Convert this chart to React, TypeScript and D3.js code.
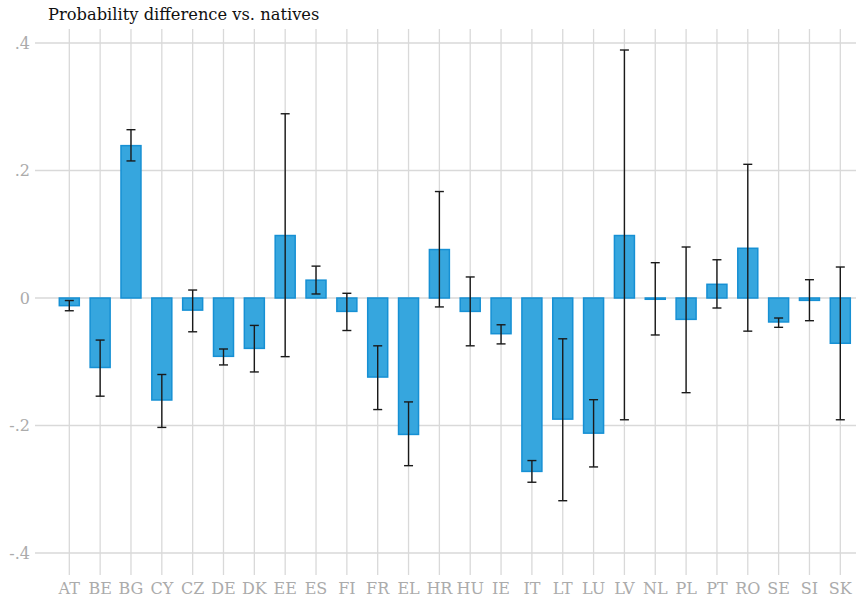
import React from "react";
import * as d3 from "d3";

const categories = ["AT","BE","BG","CY","CZ","DE","DK","EE","ES","FI","FR","EL","HR","HU","IE","IT","LT","LU","LV","NL","PL","PT","RO","SE","SI","SK"];
const values = [-0.012,-0.109,0.239,-0.160,-0.019,-0.0915,-0.079,0.098,0.028,-0.021,-0.124,-0.214,0.076,-0.021,-0.056,-0.272,-0.190,-0.212,0.098,-0.002,-0.0335,0.0215,0.078,-0.0376,-0.0037,-0.071];
const lower = [-0.020,-0.154,0.215,-0.203,-0.053,-0.105,-0.116,-0.092,0.0063,-0.051,-0.175,-0.263,-0.014,-0.075,-0.072,-0.289,-0.318,-0.265,-0.191,-0.058,-0.1485,-0.0157,-0.052,-0.046,-0.0356,-0.191];
const upper = [-0.004,-0.066,0.264,-0.120,0.0125,-0.080,-0.043,0.289,0.050,0.0074,-0.075,-0.163,0.167,0.033,-0.042,-0.255,-0.064,-0.1595,0.389,0.0554,0.080,0.060,0.2097,-0.0314,0.0287,0.0486];
const yTicks = [-0.4,-0.2,0,0.2,0.4];
const yTickLabels = ["-.4","-.2","0",".2",".4"];
const title = "Probability difference vs. natives";

const W = 856, H = 600;
const FONT = "'DejaVu Serif', serif";

export default function App() {
  const x = d3.scalePoint<string>().domain(categories).range([69.3, 840.3]);
  const y = d3.scaleLinear().domain([-0.4, 0.4]).range([553, 43]);
  const barW = 20;
  const capW = 9;
  const gridColor = "#d9d9d9";
  const labelColor = "#ababab";
  return (
    <svg width={W} height={H} style={{ position: "absolute", left: 0, top: 0, background: "#fff" }}>
      <text x={48} y={20} fontFamily={FONT} fontSize={16.3} fill="#111">{title}</text>
      {yTicks.map((t) => (
        <line key={"h" + t} x1={35} x2={856} y1={y(t)} y2={y(t)} stroke={gridColor} strokeWidth={1.3} />
      ))}
      {categories.map((c) => (
        <line key={"v" + c} x1={x(c)} x2={x(c)} y1={29} y2={575} stroke={gridColor} strokeWidth={1.3} />
      ))}
      {yTicks.map((t, i) => (
        <text key={"yl" + t} x={30} y={y(t)} dy="0.35em" textAnchor="end" fontFamily={FONT} fontSize={16} fill={labelColor}>{yTickLabels[i]}</text>
      ))}
      {categories.map((c) => (
        <text key={"xl" + c} x={x(c)} y={594} textAnchor="middle" fontFamily={FONT} fontSize={16} fill={labelColor}>{c}</text>
      ))}
      {categories.map((c, i) => {
        const v = values[i];
        const y0 = y(0), y1 = y(v);
        return (
          <rect key={"b" + c} x={(x(c) as number) - barW / 2} y={Math.min(y0, y1)} width={barW} height={Math.max(0.8, Math.abs(y1 - y0))}
            fill="#36a6de" stroke="#1690d4" strokeWidth={1.5} />
        );
      })}
      {categories.map((c, i) => {
        const cx = x(c) as number;
        const yl = y(lower[i]), yu = y(upper[i]);
        return (
          <g key={"e" + c} stroke="#1a1a1a" strokeWidth={1.4}>
            <line x1={cx} x2={cx} y1={yu} y2={yl} />
            <line x1={cx - capW / 2} x2={cx + capW / 2} y1={yu} y2={yu} />
            <line x1={cx - capW / 2} x2={cx + capW / 2} y1={yl} y2={yl} />
          </g>
        );
      })}
    </svg>
  );
}
